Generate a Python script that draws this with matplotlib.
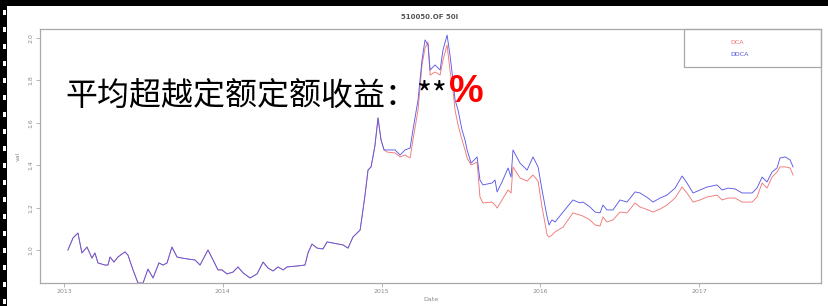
import matplotlib
matplotlib.use("Agg")
import matplotlib.pyplot as plt
from matplotlib.patches import Rectangle

# ---------------- data (decimal years, values) ----------------
t_early = [2013.025, 2013.057, 2013.088, 2013.113, 2013.145, 2013.176, 2013.195, 2013.214,
           2013.258, 2013.277, 2013.290, 2013.315, 2013.340, 2013.384, 2013.403, 2013.435,
           2013.466, 2013.498, 2013.529, 2013.561, 2013.598, 2013.624, 2013.649, 2013.680,
           2013.712, 2013.743, 2013.775, 2013.825, 2013.857, 2013.907, 2013.939, 2013.970,
           2013.995, 2014.027, 2014.065, 2014.096, 2014.128, 2014.172, 2014.216, 2014.254,
           2014.285, 2014.317, 2014.348, 2014.380, 2014.405, 2014.474, 2014.518, 2014.537,
           2014.562, 2014.594, 2014.631, 2014.657, 2014.694, 2014.757, 2014.789, 2014.820,
           2014.846, 2014.865, 2014.877, 2014.896, 2014.915, 2014.934, 2014.946, 2014.959,
           2014.978, 2014.997, 2015.016]
v_early = [1.000, 1.057, 1.080, 0.986, 1.014, 0.962, 0.986, 0.939,
           0.929, 0.929, 0.967, 0.943, 0.967, 0.991, 0.976, 0.906,
           0.844, 0.844, 0.910, 0.868, 0.939, 0.929, 0.939, 1.014,
           0.967, 0.962, 0.958, 0.953, 0.929, 1.000, 0.953, 0.906,
           0.906, 0.887, 0.896, 0.920, 0.892, 0.868, 0.887, 0.943,
           0.915, 0.901, 0.920, 0.906, 0.920, 0.925, 0.929, 0.986,
           1.028, 1.009, 1.005, 1.038, 1.033, 1.024, 1.009, 1.061,
           1.080, 1.094, 1.156, 1.259, 1.377, 1.392, 1.439, 1.495,
           1.623, 1.519, 1.472]

t_late = [2015.035, 2015.085, 2015.117, 2015.148, 2015.180, 2015.198, 2015.230, 2015.255,
          2015.274, 2015.293, 2015.306, 2015.337, 2015.369, 2015.387, 2015.413, 2015.431,
          2015.450, 2015.463, 2015.482, 2015.507, 2015.526, 2015.539, 2015.564, 2015.602,
          2015.620, 2015.639, 2015.696, 2015.715, 2015.728, 2015.759, 2015.797, 2015.816,
          2015.828, 2015.872, 2015.917, 2015.954, 2015.986, 2016.011, 2016.043, 2016.055,
          2016.074, 2016.093, 2016.143, 2016.206, 2016.250, 2016.269, 2016.313, 2016.345,
          2016.376, 2016.395, 2016.420, 2016.458, 2016.502, 2016.546, 2016.597, 2016.628,
          2016.679, 2016.710, 2016.754, 2016.798, 2016.849, 2016.893, 2016.924, 2016.962,
          2017.006, 2017.050, 2017.113, 2017.145, 2017.183, 2017.227, 2017.271, 2017.334,
          2017.365, 2017.397, 2017.428, 2017.460, 2017.491, 2017.510, 2017.542, 2017.573,
          2017.592]
ddca_late = [1.472, 1.472, 1.448, 1.472, 1.481, 1.566, 1.708, 1.896,
             1.991, 1.967, 1.849, 1.873, 1.849, 1.943, 2.014, 1.920,
             1.802, 1.708, 1.660, 1.566, 1.519, 1.472, 1.410, 1.439,
             1.330, 1.307, 1.316, 1.330, 1.274, 1.321, 1.387, 1.344,
             1.472, 1.410, 1.377, 1.439, 1.392, 1.283, 1.156, 1.118,
             1.142, 1.132, 1.179, 1.236, 1.222, 1.226, 1.203, 1.179,
             1.175, 1.212, 1.189, 1.189, 1.236, 1.226, 1.274, 1.269,
             1.245, 1.226, 1.245, 1.259, 1.292, 1.349, 1.316, 1.269,
             1.283, 1.297, 1.307, 1.283, 1.292, 1.288, 1.269, 1.269,
             1.292, 1.344, 1.321, 1.368, 1.387, 1.434, 1.439, 1.425,
             1.392]
dca_late = [1.462, 1.458, 1.439, 1.448, 1.434, 1.519, 1.660, 1.873,
            1.953, 1.981, 1.825, 1.840, 1.825, 1.896, 1.967, 1.849,
            1.755, 1.660, 1.590, 1.519, 1.472, 1.434, 1.401, 1.415,
            1.250, 1.222, 1.226, 1.212, 1.198, 1.236, 1.283, 1.269,
            1.392, 1.340, 1.325, 1.354, 1.325, 1.203, 1.071, 1.061,
            1.071, 1.085, 1.108, 1.175, 1.165, 1.160, 1.142, 1.118,
            1.113, 1.156, 1.132, 1.142, 1.179, 1.175, 1.222, 1.203,
            1.189, 1.179, 1.193, 1.212, 1.245, 1.297, 1.269, 1.226,
            1.236, 1.250, 1.259, 1.236, 1.245, 1.245, 1.226, 1.226,
            1.250, 1.316, 1.292, 1.344, 1.368, 1.392, 1.392, 1.387,
            1.354]

year_ticks = [2013, 2014, 2015, 2016, 2017]
year_labels = ["2013", "2014", "2015", "2016", "2017"]
y_ticks = [1.0, 1.2, 1.4, 1.6, 1.8, 2.0]
y_labels = ["1.0", "1.2", "1.4", "1.6", "1.8", "2.0"]
series_names = ["DCA", "DDCA"]
title_text = "510050.OF 50I"
overlay_text = "平均超越定额定额收益：**"
overlay_pct = "%"

# ---------------- figure ----------------
W, H = 829, 306
fig = plt.figure(figsize=(W / 100, H / 100), dpi=100)
fig.patch.set_facecolor("white")

ax = fig.add_axes([40 / W, (H - 283) / H, 781 / W, 254 / H])
gray = "#a8a8a8"
txtgray = "#8a8a8a"

dca_t = t_early + t_late
dca_v = v_early + dca_late
ddca_t = t_early + t_late
ddca_v = v_early + ddca_late

ax.plot(dca_t, dca_v, color="#f07878", lw=0.65)
ax.plot(ddca_t, ddca_v, color="#5a5ae6", lw=0.65)

ax.set_xlim(2012.849, 2017.768)
ax.set_ylim(0.8443, 2.0425)

for s in ax.spines.values():
    s.set_color(gray)
    s.set_linewidth(0.9)

ax.set_xticks(year_ticks)
ax.set_xticklabels(year_labels, fontsize=4.5, color=txtgray)
ax.set_yticks(y_ticks)
ax.set_yticklabels(y_labels, fontsize=4.5, color=txtgray, rotation=90, va="center")
ax.tick_params(axis="both", direction="out", length=3, width=0.6, color=gray, pad=1.5)

ax.set_xlabel("Date", fontsize=4.5, color=txtgray, labelpad=2)
ax.set_ylabel("val", fontsize=4.5, color=txtgray, labelpad=6)
fig.text(430 / W, 1 - 17 / H, title_text, fontsize=5, color="#555555",
         ha="center", va="center", fontweight="bold")

# legend box (R style: text only)
ax.add_patch(Rectangle((684 / W, (H - 67) / H), (821 - 684) / W, 38 / H,
                       transform=fig.transFigure, fill=False, edgecolor=gray, lw=0.9, clip_on=False))
fig.text(730 / W, 1 - 42 / H, series_names[0], fontsize=4.5, color="#f07070", va="center")
fig.text(730 / W, 1 - 55 / H, series_names[1], fontsize=4.5, color="#5050e0", va="center")

# overlay annotation
fig.text(65 / W, 1 - 96 / H, overlay_text, fontsize=23, color="black", va="center",
         family=["Noto Sans CJK SC", "DejaVu Sans"])
fig.text(449 / W, 1 - 92 / H, overlay_pct, fontsize=28, color="#ff0000", va="center",
         fontweight="bold", family=["Liberation Sans", "DejaVu Sans"])

# black frame: top band + film-strip left edge
fig.patches.append(Rectangle((0, 1 - 6 / H), 1, 6 / H, transform=fig.transFigure,
                             facecolor="black", edgecolor="none"))
fig.patches.append(Rectangle((0, 0), 7 / W, 1, transform=fig.transFigure,
                             facecolor="black", edgecolor="none"))
y = 10
while y < H:
    fig.patches.append(Rectangle((3 / W, 1 - (y + 5) / H), 3 / W, 5 / H, transform=fig.transFigure,
                                 facecolor="white", edgecolor="none"))
    y += 17

fig.savefig("out.png", dpi=100)
